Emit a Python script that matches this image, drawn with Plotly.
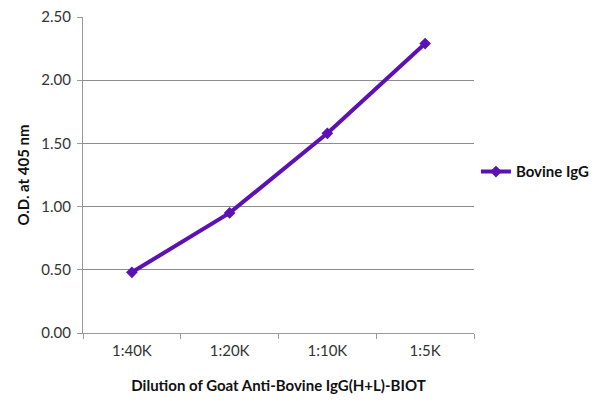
import plotly.graph_objects as go

# dilution series
dilutions = ["1:40K", "1:20K", "1:10K", "1:5K"]
od_bovine = [0.48, 0.95, 1.58, 2.29]

purple = "#5b11b3"
font = "Lato, 'Open Sans', sans-serif"

fig = go.Figure()
fig.add_trace(go.Scatter(
    x=dilutions, y=od_bovine, name="<b>Bovine IgG</b>",
    mode="lines+markers",
    line=dict(color=purple, width=4),
    marker=dict(symbol="diamond", size=9, color=purple),
))

# page body adds ~8px offset, margins compensate for it
fig.update_layout(
    width=600, height=408,
    margin=dict(l=75, r=134, t=9, b=83),
    paper_bgcolor="white", plot_bgcolor="white",
    font=dict(family=font, size=15, color="#333333"),
    showlegend=True,
    legend=dict(x=1.005, y=0.51, xanchor="left", yanchor="middle",
                font=dict(size=15, color="#111111", family=font),
                itemwidth=30),
    xaxis=dict(
        type="category", range=[-0.5, 3.5], automargin=False,
        tickson="boundaries", ticks="outside", ticklen=5, tickcolor="#999999",
        ticklabelstandoff=4,
        showline=True, linecolor="#999999", linewidth=1,
        showgrid=False,
        title=dict(text="<b>Dilution of Goat Anti-Bovine IgG(H+L)-BIOT</b>",
                   font=dict(size=15, color="#111111"), standoff=22),
    ),
    yaxis=dict(
        range=[0, 2.5], dtick=0.5, tickformat=".2f", automargin=False,
        ticks="outside", ticklen=5, tickcolor="#999999",
        ticklabeloverflow="allow", ticklabelstandoff=3,
        showline=True, linecolor="#999999", linewidth=1,
        showgrid=True, gridcolor="#8c8c8c", gridwidth=1,
        zeroline=False,
        title=dict(text="<b>O.D. at 405 nm</b>",
                   font=dict(size=15, color="#111111"), standoff=8),
    ),
)

fig.write_html("out.html")
